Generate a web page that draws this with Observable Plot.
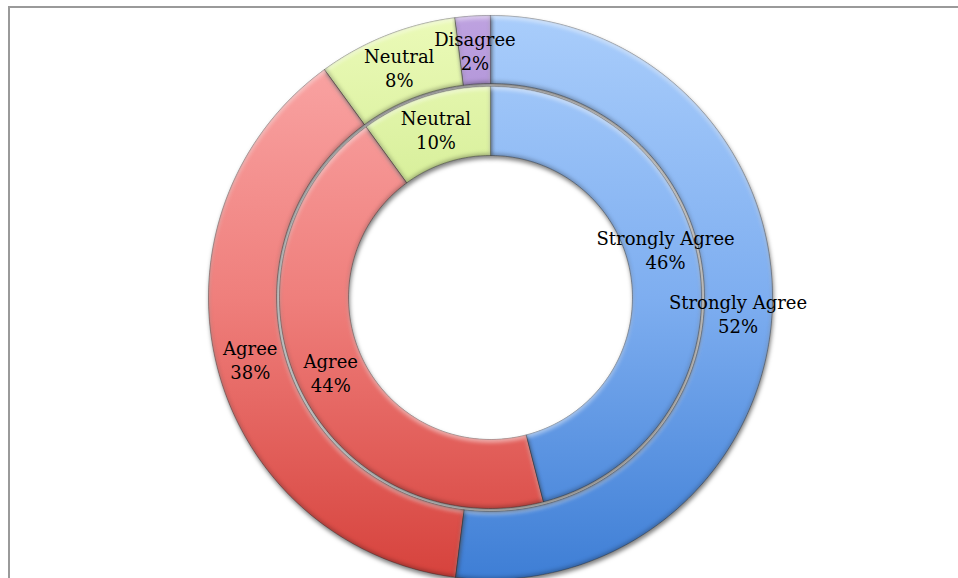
<!DOCTYPE html>
<html><head><meta charset="utf-8">
<script src="https://cdn.jsdelivr.net/npm/d3@7"></script>
<script src="https://cdn.jsdelivr.net/npm/@observablehq/plot@0.6"></script>
<style>
body{margin:0;background:#fff;}
#wrap{position:relative;width:958px;height:578px;overflow:hidden;background:#fff;}
#frame{position:absolute;left:8px;top:6px;width:1000px;height:1000px;border:2px solid #9a9a9a;box-sizing:border-box;}
#chart{position:absolute;left:0;top:0;}
</style></head><body>
<div id="wrap"><div id="frame"></div><div id="chart"></div></div>
<script>
// ---- data ----
const outerCategories = ["Strongly Agree", "Agree", "Neutral", "Disagree"];
const outerValues = [52, 38, 8, 2];
const innerCategories = ["Strongly Agree", "Agree", "Neutral"];
const innerValues = [46, 44, 10];
const colorKeys = {"Strongly Agree": "blue", "Agree": "red", "Neutral": "green", "Disagree": "purple"};

// ring geometry (layout)
const rings = [
  {name: "outer", cats: outerCategories, vals: outerValues, r0: 214, r1: 282},
  {name: "inner", cats: innerCategories, vals: innerValues, r0: 142, r1: 211}
];

const points = [];
const labels = [];
for (const ring of rings) {
  const total = d3.sum(ring.vals);
  let cum = 0;
  ring.cats.forEach((cat, i) => {
    const v = ring.vals[i];
    const a0 = cum / total * 2 * Math.PI;
    cum += v;
    const a1 = cum / total * 2 * Math.PI;
    const id = ring.name + "-" + cat;
    const n = Math.max(2, Math.ceil((a1 - a0) * 180 / Math.PI));
    const fill = `url(#g-${colorKeys[cat]})`;
    for (let k = 0; k <= n; k++) {
      const a = a0 + (a1 - a0) * k / n;
      points.push({id, fill, x: ring.r1 * Math.sin(a), y: ring.r1 * Math.cos(a)});
    }
    for (let k = n; k >= 0; k--) {
      const a = a0 + (a1 - a0) * k / n;
      points.push({id, fill, x: ring.r0 * Math.sin(a), y: ring.r0 * Math.cos(a)});
    }
    const am = (a0 + a1) / 2, rm = (ring.r0 + ring.r1) / 2;
    labels.push({ring: ring.name, cat, text: `${cat}\n${v}%`, x: rm * Math.sin(am), y: rm * Math.cos(am)});
  });
}

const textOpts = {x: "x", y: "y", text: "text", fontSize: 18, lineHeight: 1.33, fontFamily: "DejaVu Serif, serif", fill: "#000", lineAnchor: "middle"};
const moved = d => d.ring === "inner" && d.cat === "Strongly Agree";

const plot = Plot.plot({
  width: 958, height: 578, margin: 0,
  x: {domain: [-490, 468], axis: null},
  y: {domain: [-281, 297], axis: null},
  color: {type: "identity"},
  marks: [
    Plot.line(points, {x: "x", y: "y", z: "id", fill: "fill", stroke: "#2a2a2a", strokeWidth: 0.7, strokeOpacity: 0.6, curve: "linear-closed"}),
    Plot.text(labels.filter(d => !moved(d)), textOpts),
    Plot.text(labels.filter(moved), {...textOpts, dy: -26})
  ]
});

const ys = plot.scale("y");
const yTop = ys.apply(282), yBot = ys.apply(-282);
const grads = {
  blue: ["#a9cdfb", "#7eaef0", "#3e7ed5"],
  red: ["#fbaaaa", "#ef7f7c", "#d6423c"],
  green: ["#ebfab8", "#cbe888", "#a3cf55"],
  purple: ["#bea2e0", "#9a7cca", "#7650a6"]
};
const svg = d3.select(plot);
const defs = svg.insert("defs", ":first-child");
for (const [k, cs] of Object.entries(grads)) {
  const g = defs.append("linearGradient").attr("id", "g-" + k)
    .attr("gradientUnits", "userSpaceOnUse")
    .attr("x1", 0).attr("x2", 0).attr("y1", yTop).attr("y2", yBot);
  g.append("stop").attr("offset", "0").attr("stop-color", cs[0]);
  g.append("stop").attr("offset", "0.5").attr("stop-color", cs[1]);
  g.append("stop").attr("offset", "1").attr("stop-color", cs[2]);
}
defs.html(defs.html() + `
<filter id="bevel" x="-10%" y="-10%" width="125%" height="125%" color-interpolation-filters="sRGB">
  <feGaussianBlur in="SourceAlpha" stdDeviation="2" result="blur"/>
  <feOffset in="blur" dx="0" dy="2.5" result="offDown"/>
  <feComposite in="SourceAlpha" in2="offDown" operator="arithmetic" k1="0" k2="1" k3="-1" k4="0" result="hiMask"/>
  <feFlood flood-color="#ffffff" flood-opacity="0.55"/>
  <feComposite in2="hiMask" operator="in" result="hi"/>
  <feOffset in="blur" dx="0" dy="-2.5" result="offUp"/>
  <feComposite in="SourceAlpha" in2="offUp" operator="arithmetic" k1="0" k2="1" k3="-1" k4="0" result="shMask"/>
  <feFlood flood-color="#000000" flood-opacity="0.3"/>
  <feComposite in2="shMask" operator="in" result="sh"/>
  <feGaussianBlur in="SourceAlpha" stdDeviation="2.2" result="dsBlur"/>
  <feOffset in="dsBlur" dx="1" dy="2.5" result="ds"/>
  <feFlood flood-color="#000000" flood-opacity="0.5"/>
  <feComposite in2="ds" operator="in" result="dropShadow"/>
  <feComposite in="hi" in2="SourceAlpha" operator="in" result="hi2"/>
  <feComposite in="sh" in2="SourceAlpha" operator="in" result="sh2"/>
  <feMerge>
    <feMergeNode in="dropShadow"/>
    <feMergeNode in="SourceGraphic"/>
    <feMergeNode in="hi2"/>
    <feMergeNode in="sh2"/>
  </feMerge>
</filter>`);
svg.select("g[aria-label=line]").selectAll("path").attr("filter", "url(#bevel)");
svg.style("background", "none");
document.getElementById("chart").appendChild(plot);
</script>
</body></html>
